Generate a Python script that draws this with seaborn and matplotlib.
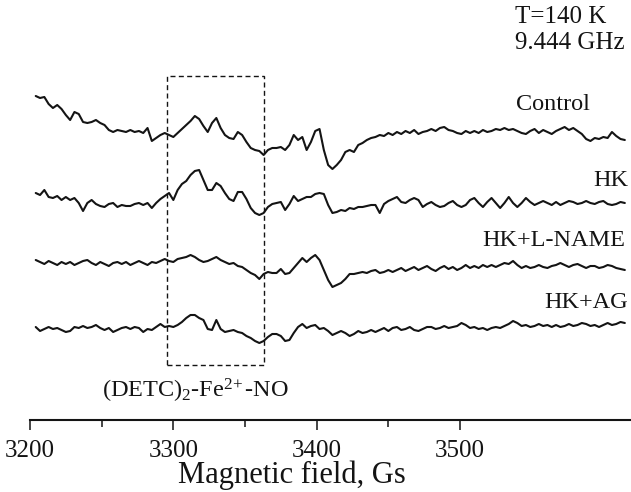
import numpy as np
import pandas as pd
import matplotlib
matplotlib.use("Agg")
import matplotlib.pyplot as plt
from matplotlib.patches import Rectangle
from matplotlib.ticker import FixedLocator
import seaborn as sns

# ---------------- data ----------------
field = np.arange(3204, 3616, 3)          # magnetic field scan grid, Gs

samples = ["Control", "HK", "HK+L-NAME", "HK+AG"]

control = [
    36, 34, 35, 28, 24, 27, 23, 17, 12, 20,
    18, 10, 9, 10, 12, 9, 7, 2, 0, 2,
    1, 0, 2, 0, 1, -1, 4, -9, -6, -3,
    -1, -3, -5, -1, 3, 7, 11, 16, 13, 6,
    0, 9, 14, 4, -3, -6, -7, 0, -3, -10,
    -16, -18, -19, -23, -18, -16, -16, -15, -18, -13,
    -3, -8, -5, -18, -10, 1, 3, -18, -33, -37,
    -33, -28, -20, -18, -20, -13, -11, -8, -6, -5,
    -3, -4, -1, -3, 0, -2, 1, -1, 2, -2,
    0, 1, 3, 1, 4, 5, 2, 1, -1, -2,
    1, -1, 1, -1, 2, 0, 1, 3, 2, 4,
    2, 3, 1, -1, -2, 1, 3, -1, 2, 0,
    -2, 1, 3, 5, 2, 4, 1, -2, -7, -9,
    -6, -7, -5, -6, 0, -4, -7, -8]

hk = [
    10, 8, 13, 6, 5, 7, 3, 6, 3, 5,
    0, -8, 0, 3, -1, -3, -4, -1, 0, -4,
    -2, -3, -3, -1, 0, -2, 0, -5, 0, 4,
    7, 10, 3, 13, 19, 22, 28, 32, 33, 23,
    13, 13, 20, 17, 10, 4, 2, 11, 11, 4,
    -5, -10, -12, -10, -4, -1, 0, 1, -7, -1,
    7, 2, 4, 6, 6, 9, 10, 9, -2, -10,
    -9, -7, -8, -5, -6, -4, -4, -3, -2, -2,
    -10, -1, 2, 4, 6, 1, 0, 3, 5, 3,
    -4, -1, 1, -2, -4, -3, 0, 2, -2, -4,
    -2, 3, 5, 0, -4, 1, 5, 0, -5, 0,
    6, 0, -4, 0, 5, 1, -2, 0, 2, 0,
    -2, 1, -2, 0, 2, 1, -1, 0, 2, 0,
    -1, 1, 2, -1, -2, -1, 1, 0]

hk_lname = [
    6, 4, 2, 5, 3, 1, 4, 2, 4, 1,
    3, 5, 6, 3, 1, 4, 2, 0, 3, 4,
    2, 4, 1, 3, 5, 3, 1, 4, 3, 5,
    7, 5, 4, 7, 8, 9, 11, 9, 6, 4,
    5, 7, 9, 6, 4, 2, 3, 0, -1, -4,
    -7, -9, -13, -8, -6, -7, -7, -3, -8, -7,
    -2, 3, 8, 4, 8, 11, 6, -4, -14, -21,
    -19, -17, -13, -8, -8, -7, -6, -7, -5, -4,
    -7, -6, -4, -6, -4, -2, -5, -3, -1, -4,
    -2, 0, -3, -5, -2, 0, -3, -1, -4, -2,
    1, -2, 0, -2, 1, -1, 1, -1, 1, 3,
    2, 5, 1, -2, 0, -2, -1, 1, -1, -2,
    0, 1, 3, 1, -1, 1, 2, 0, -2, 0,
    0, -2, -1, 1, 0, -2, -3, -4]

hk_ag = [
    1, -3, -1, 1, -1, 0, -2, -4, -3, 1,
    0, 2, 0, 1, 3, 0, -2, 0, -4, -2,
    0, 1, -1, 1, 0, -4, -1, -2, 1, 4,
    1, 2, 1, 3, 6, 10, 13, 13, 10, 8,
    -1, -2, 8, -1, -4, -3, -2, -4, -5, -8,
    -10, -13, -15, -13, -9, -6, -6, -8, -13, -12,
    -5, 1, 4, 0, 2, 3, -1, 0, -3, -7,
    -5, -3, -5, -8, -6, -3, -5, -4, -2, -4,
    -2, 0, -3, 0, 1, -2, -1, 1, -2, -3,
    -1, 1, 1, -1, 0, 2, 0, 1, 2, 5,
    3, 0, 1, -1, 0, -2, 0, 1, 0, 2,
    4, 7, 5, 2, 3, 1, 2, 4, 2, 3,
    1, 3, 1, 2, 4, 2, 3, 5, 4, 2,
    3, 1, 3, 5, 3, 4, 6, 5]

major_ticks = [3200, 3300, 3400, 3500]
minor_ticks = [3250, 3350, 3450]
box_field = (3295.4, 3363.3)      # field range of the (DETC)2-Fe2+-NO signal

# ---------------- styling / layout ----------------
sns.set_style("white")
plt.rcParams["font.family"] = ["Liberation Serif", "DejaVu Serif"]
plt.rcParams["mathtext.fontset"] = "custom"
plt.rcParams["mathtext.rm"] = "Liberation Serif"
plt.rcParams["mathtext.it"] = "Liberation Serif:italic"

offsets = [288, 217, 154, 92]          # vertical stacking of traces
ink = "#141414"

fig = plt.figure(figsize=(6.31, 4.92), dpi=100)
ax = fig.add_axes([30 / 631, 72 / 492, 601 / 631, 420 / 492])

traces = [control, hk, hk_lname, hk_ag]
for name, vals, off in zip(samples, traces, offsets):
    sns.lineplot(x=field, y=np.asarray(vals) + off, ax=ax, color=ink,
                 linewidth=1.5, estimator=None, sort=False)

ax.set_xlim(3200, 3619.3)
ax.set_ylim(0, 420)

# dashed box
ax.add_patch(Rectangle((box_field[0], 55), box_field[1] - box_field[0], 289,
                       fill=False, edgecolor=ink, linewidth=1.0,
                       linestyle=(0, (3.6, 2.4))))

# labels
lab_kw = dict(fontsize=17.5, color=ink, ha="right", va="center")
ax.text(3590.7, 315, "Control", **lab_kw)
ax.text(3617.2, 240, "HK", **lab_kw)
ax.text(3615.1, 180, "HK+L-NAME", **lab_kw)
ax.text(3617.2, 117, "HK+AG", **lab_kw)
ax.text(3538.4, 403, "T=140 K", fontsize=18, color=ink, ha="left", va="center")
ax.text(3538.4, 377, "9.444 GHz", fontsize=18, color=ink, ha="left", va="center")
ax.text(3250.2, 29, r"(DETC)$_{\mathrm{2}}$-Fe$^{\mathrm{2\!+}}$-NO", fontsize=17.5,
        color=ink, ha="left", va="center")

# axes
for s in ["left", "top", "right"]:
    ax.spines[s].set_visible(False)
ax.spines["bottom"].set_linewidth(1.5)
ax.spines["bottom"].set_color(ink)
ax.set_yticks([])
ax.xaxis.set_major_locator(FixedLocator(major_ticks))
ax.xaxis.set_minor_locator(FixedLocator(minor_ticks))
ax.tick_params(axis="x", which="major", direction="out", length=7.5, width=1.1,
               color=ink, labelsize=18, labelcolor=ink, pad=7, bottom=True)
ax.tick_params(axis="x", which="minor", direction="out", length=5, width=1.1,
               color=ink, bottom=True)
ax.set_xlabel("Magnetic field, Gs", fontsize=22, color=ink)
ax.xaxis.set_label_coords((292 - 30) / 601, -70 / 420)
ax.xaxis.label.set_verticalalignment("bottom")

fig.savefig("out.png", dpi=100)
